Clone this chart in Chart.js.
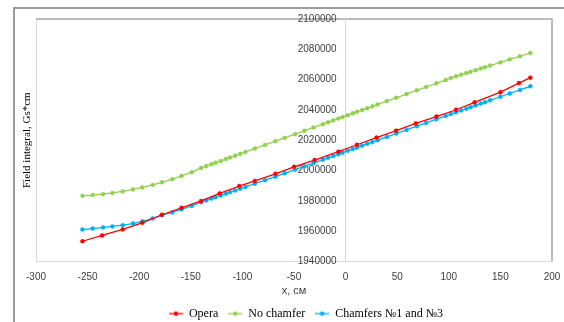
<!DOCTYPE html>
<html>
<head>
<meta charset="utf-8">
<script src="https://cdn.jsdelivr.net/npm/chart.js@4/dist/chart.umd.min.js"></script>
<style>
html, body { margin: 0; padding: 0; background: #fff; }
</style>
</head>
<body>
<canvas id="Canvas1" width="564" height="322"></canvas>
<script>
// x positions (cm) shared by "No chamfer" and "Chamfers"
var xGrid = [-255, -245, -235, -226, -216, -206, -197, -187, -178, -168, -159, -149, -140,
    -135, -130, -126, -121, -116, -112, -107, -102, -97, -88, -78, -68, -59, -49, -40, -31,
    -22, -17, -12, -7, -3, 2, 7, 11, 16, 21, 26, 31, 40, 49, 59, 69, 78, 88, 97,
    102, 107, 112, 117, 121, 126, 131, 135, 140, 150, 159, 169, 179];

var noChamfer = [1983300, 1983800, 1984400, 1985200, 1986200, 1987500, 1988800, 1990500, 1992200,
    1994300, 1996400, 1998900, 2001700, 2002900, 2004150, 2005130, 2006350, 2007580, 2008560,
    2009790, 2011010, 2012240, 2014440, 2016890, 2019340, 2021540, 2023990, 2026200, 2028400,
    2030610, 2031840, 2033060, 2034290, 2035270, 2036490, 2037720, 2038700, 2039920, 2041150,
    2042370, 2043600, 2045800, 2048010, 2050460, 2052910, 2055110, 2057560, 2059770, 2060990,
    2062200, 2063270, 2064330, 2065180, 2066250, 2067310, 2068160, 2069230, 2071360, 2073280,
    2075410, 2077540];

var chamfers = [1961000, 1961700, 1962400, 1963100, 1963900, 1965000, 1966400, 1968300, 1970500,
    1972300, 1974400, 1976600, 1979100, 1980270, 1981440, 1982380, 1983550, 1984720, 1985650,
    1986820, 1987990, 1989160, 1991270, 1993610, 1995950, 1998140, 2000570, 2002750, 2004940,
    2007130, 2008340, 2009560, 2010770, 2011750, 2012960, 2014180, 2015150, 2016360, 2017580,
    2018790, 2020010, 2022190, 2024380, 2026810, 2029240, 2031430, 2033860, 2036050, 2037260,
    2038450, 2039640, 2040830, 2041780, 2042970, 2044160, 2045110, 2046300, 2048680, 2050820,
    2053200, 2055580];

// Opera is computed on a coarser grid
var operaX = [-255, -236, -216, -197, -178, -159, -140, -122, -103, -88, -68, -50, -30, -7,
    11, 30, 49, 68, 88, 107, 125, 150, 168, 179];
var opera = [1953300, 1957100, 1961100, 1965500, 1970800, 1975400, 1979900, 1984900, 1989700,
    1993100, 1997800, 2002400, 2006900, 2012400, 2017000, 2021700, 2026300, 2031100, 2035600,
    2040100, 2045000, 2051700, 2057700, 2061300];

var xTicks = [-300, -250, -200, -150, -100, -50, 0, 50, 100, 150, 200];
var yTicks = [1940000, 1960000, 1980000, 2000000, 2020000, 2040000, 2060000, 2080000, 2100000];

function pairs(xs, ys) {
    return xs.map(function (x, i) { return { x: x, y: ys[i] }; });
}

// little "line with dot" picture for the legend
function legendMark(color) {
    var c = document.createElement('canvas');
    c.width = 14; c.height = 8;
    var g = c.getContext('2d');
    g.strokeStyle = color; g.lineWidth = 1.3;
    g.beginPath(); g.moveTo(0, 4); g.lineTo(14, 4); g.stroke();
    g.fillStyle = color;
    g.beginPath(); g.arc(7, 4, 2.2, 0, Math.PI * 2); g.fill();
    return c;
}

var framePlugin = {
    id: 'frame',
    afterLayout: function (chart) {
        // legend sits a little right of centre in the original
        if (chart.legend) {
            chart.legend.left += 12;
            chart.legend.right += 12;
        }
    },
    beforeDraw: function (chart) {
        var ctx = chart.ctx, a = chart.chartArea;
        ctx.save();
        ctx.fillStyle = '#fff';
        ctx.fillRect(0, 0, chart.width, chart.height);
        ctx.strokeStyle = '#9c9c9c';
        ctx.lineWidth = 2;
        ctx.beginPath();
        ctx.moveTo(14, chart.height); ctx.lineTo(14, 8); ctx.lineTo(chart.width, 8);
        ctx.stroke();
        ctx.lineWidth = 1;
        ctx.strokeStyle = '#d9d9d9';
        ctx.beginPath();
        ctx.moveTo(a.left + 0.5, a.top); ctx.lineTo(a.left + 0.5, a.bottom);
        ctx.stroke();
        ctx.strokeStyle = '#a6a6a6';
        ctx.lineWidth = 1.5;
        ctx.beginPath();
        ctx.moveTo(a.left, a.top); ctx.lineTo(a.right, a.top); ctx.lineTo(a.right, a.bottom);
        ctx.stroke();
        ctx.restore();
    }
};

var colors = { opera: '#ff0000', no: '#92d050', ch: '#00b0f0' };

var GKChart = document.getElementById('Canvas1').getContext('2d');

var myChart = new Chart(GKChart, {
    type: 'scatter',
    data: {
        datasets: [{
            label: 'Opera',
            data: pairs(operaX, opera),
            borderColor: colors.opera,
            backgroundColor: colors.opera,
            showLine: true,
            borderWidth: 1.3,
            pointRadius: 2,
            pointBorderWidth: 0.5
        }, {
            label: 'No chamfer',
            data: pairs(xGrid, noChamfer),
            borderColor: colors.no,
            backgroundColor: colors.no,
            showLine: true,
            borderWidth: 1.3,
            pointRadius: 2,
            pointBorderWidth: 0.5
        }, {
            label: 'Chamfers №1 and №3',
            data: pairs(xGrid, chamfers),
            borderColor: colors.ch,
            backgroundColor: colors.ch,
            showLine: true,
            borderWidth: 1.3,
            pointRadius: 2,
            pointBorderWidth: 0.5
        }]
    },
    options: {
        responsive: false,
        animation: false,
        layout: { padding: { left: 12.8, top: 19, right: 12, bottom: -7.6 } },
        plugins: {
            tooltip: { enabled: false },
            legend: {
                position: 'bottom',
                fullSize: false,
                labels: {
                    usePointStyle: true,
                    pointStyleWidth: 14,
                    padding: 10,
                    color: '#000',
                    font: { family: '"Liberation Serif", serif', size: 12 },
                    generateLabels: function (chart) {
                        return chart.data.datasets.map(function (ds, i) {
                            return {
                                text: ds.label,
                                fillStyle: ds.backgroundColor,
                                strokeStyle: ds.borderColor,
                                pointStyle: legendMark(ds.borderColor),
                                datasetIndex: i,
                                hidden: false,
                                lineWidth: 0
                            };
                        });
                    }
                }
            }
        },
        scales: {
            x: {
                type: 'linear',
                min: -300,
                max: 200,
                afterBuildTicks: function (s) { s.ticks = xTicks.map(function (v) { return { value: v }; }); },
                // only the x = 0 line is drawn, as the vertical axis line
                grid: {
                    drawTicks: true,
                    tickLength: 8,
                    tickColor: 'rgba(0,0,0,0)',
                    color: function (c) { return c.tick && c.tick.value === 0 ? '#d9d9d9' : 'rgba(0,0,0,0)'; }
                },
                border: { color: '#d9d9d9' },
                ticks: {
                    padding: 2,
                    color: '#404040',
                    font: { family: '"Liberation Sans", sans-serif', size: 10 }
                },
                title: {
                    display: true,
                    text: 'x, см',
                    color: '#404040',
                    padding: { top: -1, bottom: 0 },
                    font: { family: '"Liberation Sans", sans-serif', size: 11 }
                }
            },
            y: {
                type: 'linear',
                position: { x: -8.7 },
                min: 1940000,
                max: 2100000,
                afterBuildTicks: function (s) { s.ticks = yTicks.map(function (v) { return { value: v }; }); },
                grid: { display: false, drawTicks: false },
                border: { display: false },
                ticks: {
                    color: '#404040',
                    font: { family: '"Liberation Sans", sans-serif', size: 10 },
                    callback: function (v) { return String(v); }
                }
            },
            yt: {
                type: 'linear',
                position: 'left',
                grid: { display: false, drawTicks: false },
                border: { display: false },
                ticks: { display: false },
                title: {
                    display: true,
                    text: 'Field integral, Gs*cm',
                    color: '#000',
                    padding: { top: 8, bottom: 2 },
                    font: { family: '"Liberation Serif", serif', size: 11 }
                }
            }
        }
    },
    plugins: [framePlugin]
});
</script>
</body>
</html>
